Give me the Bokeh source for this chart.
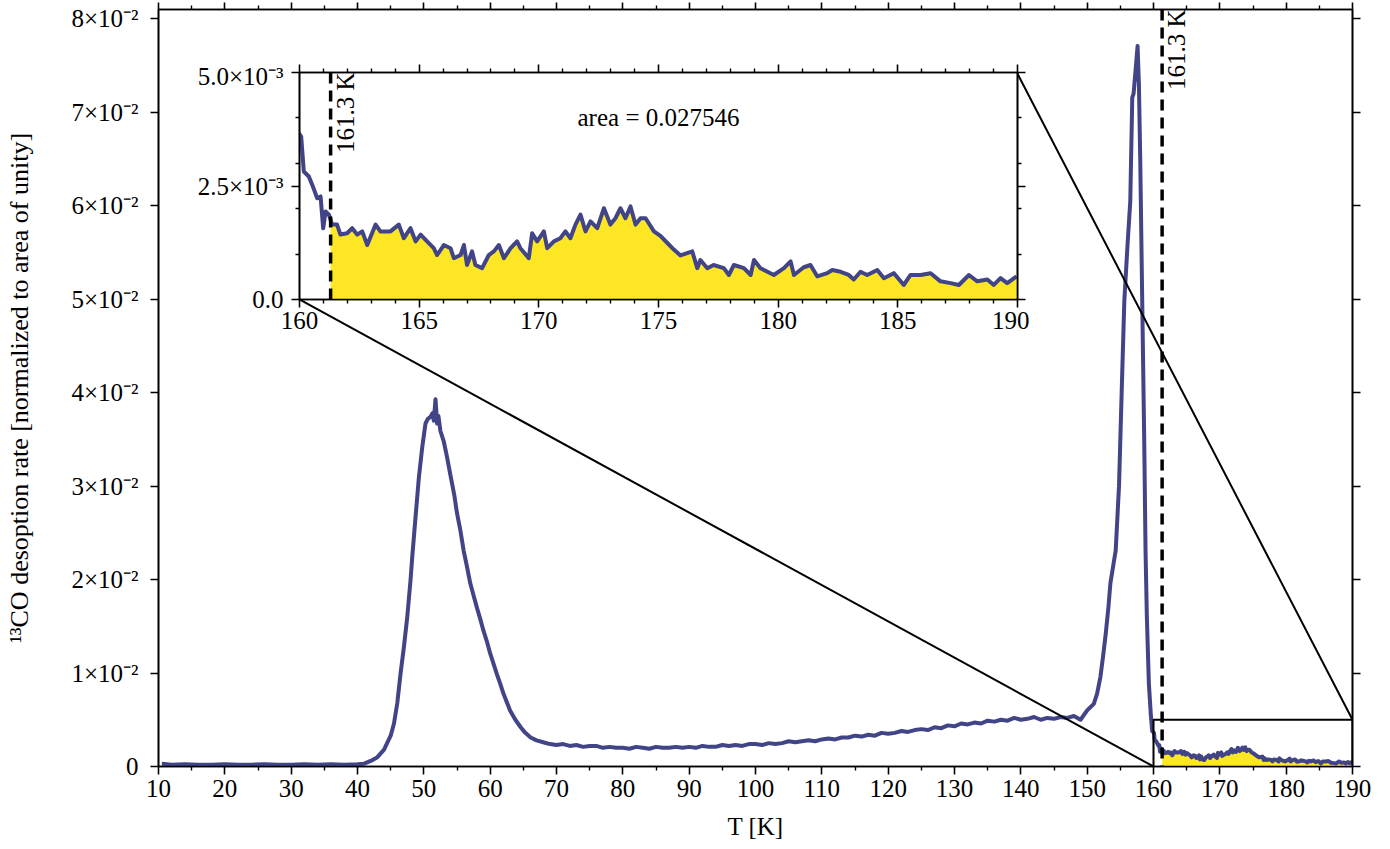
import math
from bokeh.plotting import figure
from bokeh.models import Range1d, LinearAxis, FixedTicker, Span, Label
from bokeh.embed import file_html
from bokeh.resources import INLINE

# ---------------- data ----------------
T_MAIN = [10.5, 12, 14, 16, 18, 20, 22, 24, 26, 28, 30, 32, 34, 36, 38, 40, 41, 42,
          43.0, 44.0, 45.0, 45.5, 46.0, 46.5, 47.0, 47.5, 48.0, 48.25, 48.75, 49.25,
          49.75, 50.25, 50.6, 51.0, 51.3, 51.5, 51.76, 52.0, 52.2, 52.5, 53.0, 53.5,
          54.0, 54.25, 54.6, 55.0, 55.5, 56.0, 56.5, 57.0, 57.5, 58.0, 58.5, 59.0,
          59.5, 60.0, 60.5, 61.0, 61.5, 62.0, 62.5, 63.0, 63.8, 64.6, 65.3, 66.1, 67.0,
          68, 69, 70, 71, 72, 73, 74, 75, 76, 77, 78, 79, 80, 81, 82, 83, 84, 85, 86,
          87, 88, 89, 90, 91, 92, 93, 94, 95, 96, 97, 98, 99, 100, 101, 102, 103, 104,
          105, 106, 107, 108, 109, 110, 111, 112, 113, 114, 115, 116, 117, 118, 119,
          120, 121, 122, 123, 124, 125, 126, 127, 128, 129, 130, 131, 132, 133, 134,
          135, 136, 137, 138, 139, 140, 141, 142, 143, 144, 145, 146, 147, 148, 149,
          150, 151, 151.5, 152, 152.4, 152.8, 153.2, 153.5, 154.0, 154.3, 154.8, 155.2,
          155.6, 156.1, 156.5, 156.8, 157.0, 157.3, 157.6, 157.8, 158.0, 158.3, 158.6,
          158.8, 159.0, 159.3, 159.6, 159.8]
RATE_MAIN = [0.0003, 0.0002, 0.00025, 0.0002, 0.0002, 0.00025, 0.0002, 0.0002, 0.00025,
             0.0002, 0.0002, 0.00025, 0.0002, 0.00025, 0.0002, 0.00025, 0.0003, 0.0006,
             0.0010, 0.0018, 0.0033, 0.0046, 0.0068, 0.0100, 0.0128, 0.0160, 0.0200,
             0.0224, 0.0267, 0.0309, 0.0341, 0.0367, 0.0372, 0.0374, 0.0378, 0.0370,
             0.0393, 0.0367, 0.0375, 0.0359, 0.0348, 0.0331, 0.0312, 0.0303, 0.0290,
             0.0271, 0.0253, 0.0231, 0.0214, 0.0196, 0.0183, 0.0170, 0.0158, 0.0145,
             0.0134, 0.0121, 0.0110, 0.0099, 0.0089, 0.0078, 0.0069, 0.0060, 0.0050,
             0.0042, 0.0036, 0.0031, 0.0028,
             0.0026, 0.0024, 0.0023, 0.0024, 0.0022, 0.0023, 0.0021, 0.0022, 0.0022,
             0.0020, 0.0021, 0.0020, 0.0020, 0.0019, 0.0021, 0.0020, 0.0019, 0.0021,
             0.0020, 0.0020, 0.0021, 0.0020, 0.0021, 0.0020, 0.0022, 0.0021, 0.0021,
             0.0023, 0.0022, 0.0023, 0.0022, 0.0024, 0.0024, 0.0023, 0.0025, 0.0024,
             0.0025, 0.0027, 0.0026, 0.0027, 0.0028, 0.0027, 0.0029, 0.0030, 0.0029,
             0.0031, 0.0031, 0.0033, 0.0032, 0.0034, 0.0033, 0.0036, 0.0035, 0.0036,
             0.0038, 0.0037, 0.0039, 0.0040, 0.0039, 0.0042, 0.0041, 0.0044, 0.0043,
             0.0046, 0.0045, 0.0047, 0.0046, 0.0049, 0.0048, 0.0050, 0.0049, 0.0052,
             0.0050, 0.0051, 0.0053, 0.0050, 0.0052, 0.0051, 0.0053, 0.0052, 0.0054,
             0.0050, 0.0060, 0.0067, 0.0078, 0.0096, 0.0118, 0.0142, 0.0170, 0.0196,
             0.0218, 0.0231, 0.0300, 0.0400, 0.0498, 0.0560, 0.0605, 0.0716, 0.0720,
             0.0745, 0.0771, 0.0730, 0.0650, 0.0498, 0.0350, 0.0231, 0.0160, 0.0089,
             0.0055, 0.0038]

T_ZOOM = [160.07, 160.18, 160.39, 160.53, 160.74, 160.88, 160.99, 161.09, 161.23, 161.30,
          161.36, 161.57, 161.71, 161.99, 162.20, 162.41, 162.62, 162.83, 163.18, 163.38,
          163.80, 164.15, 164.36, 164.64, 164.85, 165.06, 165.33, 165.61, 165.75, 166.03,
          166.31, 166.45, 166.73, 166.87, 167.00, 167.21, 167.35, 167.63, 167.91, 168.12,
          168.33, 168.54, 168.82, 169.09, 169.23, 169.58, 169.72, 169.93, 170.21, 170.35,
          170.63, 170.90, 171.11, 171.32, 171.53, 171.74, 171.95, 172.16, 172.44, 172.72,
          172.99, 173.20, 173.41, 173.62, 173.83, 174.04, 174.25, 174.46, 174.81, 175.08,
          175.36, 175.64, 175.92, 176.41, 176.62, 176.75, 177.04, 177.30, 177.73, 177.94,
          178.15, 178.57, 178.85, 178.99, 179.26, 179.82, 180.24, 180.52, 180.66, 181.07,
          181.35, 181.63, 182.05, 182.26, 182.61, 182.95, 183.16, 183.44, 183.72, 184.14,
          184.42, 184.83, 185.25, 185.53, 185.95, 186.37, 186.78, 187.20, 187.55, 187.97,
          188.32, 188.74, 189.01, 189.29, 189.57, 189.96]
RATE_ZOOM = [0.00359, 0.00282, 0.00271, 0.00253, 0.00223, 0.00227, 0.00157, 0.00194,
             0.00187, 0.00175, 0.00165, 0.00165, 0.00143, 0.00146, 0.00157, 0.00143,
             0.00150, 0.00120, 0.00165, 0.00150, 0.00150, 0.00165, 0.00135, 0.00157,
             0.00128, 0.00143, 0.00128, 0.00113, 0.00098, 0.00120, 0.00113, 0.00091,
             0.00098, 0.00120, 0.00076, 0.00106, 0.00076, 0.00069, 0.00098, 0.00106,
             0.00120, 0.00091, 0.00113, 0.00128, 0.00113, 0.00091, 0.00146, 0.00128,
             0.00150, 0.00113, 0.00128, 0.00135, 0.00150, 0.00135, 0.00165, 0.00187,
             0.00150, 0.00172, 0.00157, 0.00201, 0.00165, 0.00179, 0.00201, 0.00179,
             0.00205, 0.00165, 0.00179, 0.00179, 0.00150, 0.00140, 0.00125, 0.00110,
             0.00097, 0.00106, 0.00069, 0.00087, 0.00069, 0.00076, 0.00069, 0.00054,
             0.00076, 0.00069, 0.00054, 0.00087, 0.00069, 0.00054, 0.00069, 0.00084,
             0.00054, 0.00071, 0.00076, 0.00051, 0.00058, 0.00065, 0.00061, 0.00054,
             0.00044, 0.00061, 0.00054, 0.00065, 0.00047, 0.00058, 0.00032, 0.00054,
             0.00054, 0.00058, 0.00040, 0.00036, 0.00032, 0.00054, 0.00040, 0.00044,
             0.00032, 0.00047, 0.00036, 0.00051]

T_CUT = 161.3
AREA_TEXT = "area = 0.027546"
CUT_TEXT = "161.3 K"
X_LABEL = "T [K]"
Y_LABEL = "¹³CO desoption rate [normalized to area of unity]"

X_TICKS = [10, 20, 30, 40, 50, 60, 70, 80, 90, 100, 110, 120, 130, 140, 150, 160, 170, 180, 190]
X_MINOR = [15, 25, 35, 45, 55, 65, 75, 85, 95, 105, 115, 125, 135, 145, 155, 165, 175, 185]
Y_TICKS = [0, 0.01, 0.02, 0.03, 0.04, 0.05, 0.06, 0.07, 0.08]
Y_LABELS = ["0", "1×10⁻²", "2×10⁻²", "3×10⁻²", "4×10⁻²", "5×10⁻²", "6×10⁻²", "7×10⁻²", "8×10⁻²"]

ZX_TICKS = [160, 165, 170, 175, 180, 185, 190]
ZX_MINOR = [161, 162, 163, 164, 166, 167, 168, 169, 171, 172, 173, 174, 176, 177, 178, 179,
            181, 182, 183, 184, 186, 187, 188, 189]
ZY_TICKS = [0.0, 0.0025, 0.005]
ZY_LABELS = ["0.0", "2.5×10⁻³", "5.0×10⁻³"]
ZY_MINOR = [0.001, 0.002, 0.003, 0.004]

# ---------------- styling / layout constants ----------------
FONT = "Liberation Serif"
FS = "25px"
LINE_COL = "#414487"
FILL_COL = "#fde725"
LW = 4
X_RANGE = (10, 190)
Y_RANGE = (0, 0.081)
ZOOM_X = (160, 190)
ZOOM_Y = (0, 0.005)

W, H = 1385, 846
ML, MR, MT, MB = 158, 33, 9, 80
FW = W - ML - MR
FH = H - MT - MB
PAGE = 0
# inset placement in main-axes fractions (left, bottom, width, height)
IB = (0.118, 0.617, 0.601, 0.2995)
IL, IR, IT, IBm = 140, 12, 10, 45
IFW = round(IB[2] * FW)
IFH = round(IB[3] * FH)
I_LEFT = PAGE + ML + round(IB[0] * FW) - IL
I_TOP = PAGE + MT + round((1 - IB[1] - IB[3]) * FH) - IT

T_ALL = T_MAIN + T_ZOOM
R_ALL = RATE_MAIN + RATE_ZOOM
T_FILL = [t for t in T_ALL if t >= T_CUT]
R_FILL = [r for t, r in zip(T_ALL, R_ALL) if t >= T_CUT]


def style_axis(ax, ticks, minor, labels=None, show=True, standoff=10, tick_out=8):
    ax.ticker = FixedTicker(ticks=ticks, minor_ticks=minor)
    ax.axis_line_width = 1.6
    ax.axis_line_color = "black"
    ax.major_tick_line_width = 1.6
    ax.minor_tick_line_width = 1.4
    ax.major_tick_in = 0
    ax.major_tick_out = tick_out
    ax.minor_tick_in = 0
    ax.minor_tick_out = 4
    ax.major_label_text_font = FONT
    ax.major_label_text_font_size = FS
    ax.major_label_text_color = "black"
    ax.major_label_standoff = standoff
    if not show:
        ax.major_label_overrides = {t: "" for t in ticks}
        ax.major_label_standoff = 0
    elif labels is not None:
        ax.major_label_overrides = dict(zip(ticks, labels))


# ---------------- main figure ----------------
p = figure(width=W, height=H, x_range=Range1d(*X_RANGE), y_range=Range1d(*Y_RANGE),
           output_backend="svg", toolbar_location=None,
           min_border_left=ML, min_border_right=MR, min_border_top=MT, min_border_bottom=MB,
           background_fill_color="white", border_fill_color="white")
p.grid.visible = False
p.outline_line_color = "black"
p.outline_line_width = 1.6

style_axis(p.xaxis[0], X_TICKS, X_MINOR, [str(t) for t in X_TICKS], standoff=5)
p.xaxis[0].axis_label = X_LABEL
p.xaxis[0].axis_label_text_font = FONT
p.xaxis[0].axis_label_text_font_size = FS
p.xaxis[0].axis_label_text_font_style = "normal"
p.xaxis[0].axis_label_text_color = "black"
p.xaxis[0].axis_label_standoff = 13

style_axis(p.yaxis[0], Y_TICKS, [], Y_LABELS, standoff=12)
p.yaxis[0].axis_label = Y_LABEL
p.yaxis[0].axis_label_text_font = FONT
p.yaxis[0].axis_label_text_font_size = "26px"
p.yaxis[0].axis_label_text_font_style = "normal"
p.yaxis[0].axis_label_text_color = "black"
p.yaxis[0].axis_label_standoff = 34

top_ax = LinearAxis()
style_axis(top_ax, X_TICKS, X_MINOR, show=False, tick_out=7)
p.add_layout(top_ax, "above")
right_ax = LinearAxis()
style_axis(right_ax, Y_TICKS, [], show=False)
p.add_layout(right_ax, "right")

p.varea(x=T_FILL, y1=0, y2=R_FILL, fill_color=FILL_COL)
p.line(T_ALL, R_ALL, line_color=LINE_COL, line_width=LW, line_join="round")

p.add_layout(Span(location=T_CUT, dimension="height", line_color="black",
                  line_width=3.5, line_dash="11 7"))
p.add_layout(Label(x=T_CUT, y=Y_RANGE[1], text=CUT_TEXT, angle=math.pi / 2,
                   text_align="right", text_baseline="top", x_offset=1,
                   text_font=FONT, text_font_size=FS, text_color="black"))

# zoom rectangle and connector lines
x_bl = X_RANGE[0] + IB[0] * (X_RANGE[1] - X_RANGE[0])
y_bl = Y_RANGE[0] + IB[1] * (Y_RANGE[1] - Y_RANGE[0])
x_tr = X_RANGE[0] + (IB[0] + IB[2]) * (X_RANGE[1] - X_RANGE[0])
y_tr = Y_RANGE[0] + (IB[1] + IB[3]) * (Y_RANGE[1] - Y_RANGE[0])
p.line([ZOOM_X[0], ZOOM_X[0], ZOOM_X[1], ZOOM_X[1]],
       [ZOOM_Y[0], ZOOM_Y[1], ZOOM_Y[1], ZOOM_Y[0]], line_color="black", line_width=2)
p.line([ZOOM_X[0], x_bl], [ZOOM_Y[0], y_bl], line_color="black", line_width=2)
p.line([ZOOM_X[1], x_tr], [ZOOM_Y[1], y_tr], line_color="black", line_width=2)

# ---------------- inset figure ----------------
ins = figure(width=IL + IFW + IR, height=IT + IFH + IBm,
             x_range=Range1d(*ZOOM_X), y_range=Range1d(*ZOOM_Y),
             output_backend="svg", toolbar_location=None,
             min_border_left=IL, min_border_right=IR, min_border_top=IT, min_border_bottom=IBm,
             background_fill_color="white", border_fill_alpha=0,
             styles={"position": "absolute", "left": f"{I_LEFT}px", "top": f"{I_TOP}px",
                     "z-index": "10"})
ins.grid.visible = False
ins.outline_line_color = "black"
ins.outline_line_width = 1.6
style_axis(ins.xaxis[0], ZX_TICKS, ZX_MINOR, [str(t) for t in ZX_TICKS], standoff=4)
style_axis(ins.yaxis[0], ZY_TICKS, ZY_MINOR, ZY_LABELS, standoff=8)
itop = LinearAxis()
style_axis(itop, ZX_TICKS, ZX_MINOR, show=False)
ins.add_layout(itop, "above")
iright = LinearAxis()
style_axis(iright, ZY_TICKS, ZY_MINOR, show=False)
ins.add_layout(iright, "right")

ins.varea(x=T_FILL, y1=0, y2=R_FILL, fill_color=FILL_COL)
ins.line(T_ALL, R_ALL, line_color=LINE_COL, line_width=LW, line_join="round")
ins.add_layout(Span(location=T_CUT, dimension="height", line_color="black",
                    line_width=3.5, line_dash="11 7"))
ins.add_layout(Label(x=T_CUT, y=ZOOM_Y[1], text=CUT_TEXT, angle=math.pi / 2,
                     text_align="right", text_baseline="top", x_offset=1,
                     text_font=FONT, text_font_size=FS, text_color="black"))
ins.add_layout(Label(x=ZOOM_X[0] + 0.5 * (ZOOM_X[1] - ZOOM_X[0]),
                     y=ZOOM_Y[0] + 0.8 * (ZOOM_Y[1] - ZOOM_Y[0]),
                     text=AREA_TEXT, text_align="center", text_baseline="middle",
                     text_font=FONT, text_font_size=FS, text_color="black"))

open("out.html", "w").write(file_html([p, ins], INLINE))
